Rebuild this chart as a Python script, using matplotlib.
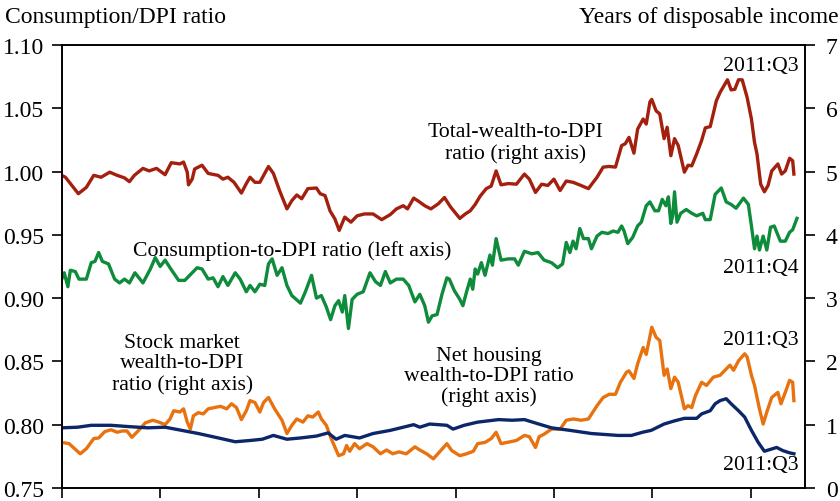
import numpy as np
import matplotlib
matplotlib.use("Agg")
import matplotlib.pyplot as plt

plt.rcParams['font.family'] = ['Liberation Serif', 'DejaVu Serif']

# consumption-to-DPI ratio (left axis)
cons_year = [1952.0, 1952.2, 1952.5, 1952.7, 1953.1, 1953.4, 1954.0, 1954.4, 1954.7, 1955.0,
             1955.3, 1955.8, 1956.3, 1956.7, 1957.1, 1957.5, 1957.95, 1958.6, 1959.2, 1959.6,
             1960.0, 1960.4, 1960.8, 1961.5, 1962.0, 1962.6, 1963.0, 1963.4, 1963.9, 1964.3,
             1964.7, 1965.1, 1965.5, 1966.1, 1966.5, 1967.0, 1967.3, 1967.7, 1968.1, 1968.5,
             1968.8, 1969.1, 1969.5, 1969.9, 1970.3, 1970.7, 1971.4, 1971.8, 1972.3, 1972.7,
             1973.1, 1973.5, 1973.85, 1974.2, 1974.5, 1974.8, 1975.0, 1975.3, 1975.6, 1976.0,
             1976.5, 1977.05, 1977.5, 1977.9, 1978.3, 1978.7, 1979.2, 1979.75, 1980.2, 1980.7,
             1981.1, 1981.5, 1981.8, 1982.1, 1982.5, 1982.9, 1983.3, 1983.5, 1983.9, 1984.35,
             1984.6, 1984.9, 1985.2, 1985.4, 1985.6, 1985.8, 1986.1, 1986.4, 1986.8, 1987.0,
             1987.3, 1987.7, 1988.3, 1988.8, 1989.1, 1989.6, 1990.2, 1990.7, 1991.2, 1991.8,
             1992.3, 1992.7, 1993.0, 1993.3, 1993.55, 1993.8, 1994.1, 1994.4, 1994.8, 1995.05,
             1995.5, 1995.9, 1996.4, 1996.8, 1997.2, 1997.5, 1997.7, 1998.0, 1998.4, 1998.8,
             1999.1, 1999.5, 1999.8, 2000.2, 2000.5, 2000.8, 2001.1, 2001.3, 2001.5, 2001.65,
             2001.8, 2002.0, 2002.3, 2002.75, 2003.2, 2003.6, 2004.1, 2004.3, 2004.7, 2005.1,
             2005.6, 2006.0, 2006.4, 2006.8, 2007.4, 2007.8, 2008.05, 2008.3, 2008.5, 2008.7,
             2009.0, 2009.3, 2009.6, 2009.9, 2010.4, 2010.8, 2011.15, 2011.4, 2011.75]
cons_val = [0.915, 0.920, 0.909, 0.922, 0.921, 0.915, 0.915, 0.928, 0.929, 0.936,
            0.929, 0.927, 0.915, 0.912, 0.915, 0.912, 0.920, 0.912, 0.923, 0.932,
            0.925, 0.930, 0.924, 0.914, 0.914, 0.920, 0.924, 0.923, 0.915, 0.916,
            0.909, 0.917, 0.910, 0.920, 0.915, 0.905, 0.910, 0.905, 0.911, 0.910,
            0.927, 0.931, 0.918, 0.924, 0.910, 0.902, 0.896, 0.905, 0.918, 0.900,
            0.902, 0.893, 0.883, 0.894, 0.898, 0.889, 0.902, 0.876, 0.899, 0.903,
            0.905, 0.920, 0.913, 0.910, 0.921, 0.912, 0.915, 0.915, 0.910, 0.897,
            0.903, 0.894, 0.881, 0.886, 0.887, 0.903, 0.916, 0.915, 0.906, 0.899,
            0.894, 0.905, 0.915, 0.907, 0.923, 0.919, 0.928, 0.918, 0.934, 0.926,
            0.947, 0.930, 0.931, 0.931, 0.926, 0.937, 0.935, 0.936, 0.930, 0.928,
            0.924, 0.927, 0.944, 0.936, 0.945, 0.939, 0.955, 0.947, 0.947, 0.939,
            0.949, 0.952, 0.951, 0.953, 0.952, 0.957, 0.953, 0.943, 0.948, 0.957,
            0.960, 0.973, 0.976, 0.969, 0.969, 0.978, 0.973, 0.980, 0.959, 0.965,
            0.984, 0.960, 0.967, 0.970, 0.967, 0.965, 0.967, 0.962, 0.962, 0.982,
            0.987, 0.976, 0.974, 0.971, 0.979, 0.974, 0.957, 0.939, 0.949, 0.938,
            0.949, 0.938, 0.956, 0.957, 0.945, 0.945, 0.952, 0.954, 0.963]

# total wealth / DPI (right axis, years of income)
tot_year = [1952.0, 1952.3, 1953.35, 1954.0, 1954.6, 1955.2, 1955.9, 1956.5, 1957.1, 1957.5,
            1957.9, 1958.6, 1959.1, 1959.7, 1960.4, 1960.9, 1961.6, 1961.9, 1962.2, 1962.3,
            1962.6, 1962.8, 1963.4, 1963.9, 1964.7, 1965.1, 1965.5, 1966.0, 1966.6, 1967.0,
            1967.3, 1967.7, 1968.1, 1968.8, 1969.2, 1969.7, 1970.3, 1970.7, 1971.1, 1971.5,
            1972.0, 1972.7, 1973.0, 1973.4, 1973.8, 1974.2, 1974.55, 1975.0, 1975.5, 1976.0,
            1976.6, 1977.3, 1978.0, 1978.7, 1979.2, 1979.75, 1980.1, 1980.6, 1981.0, 1981.5,
            1982.0, 1982.6, 1983.1, 1983.6, 1984.35, 1984.8, 1985.2, 1985.6, 1986.0, 1986.5,
            1986.9, 1987.3, 1987.7, 1988.3, 1988.95, 1989.6, 1990.0, 1990.5, 1991.0, 1991.5,
            1992.0, 1992.5, 1993.0, 1993.55, 1994.2, 1994.8, 1995.5, 1996.0, 1996.5, 1997.0,
            1997.5, 1997.8, 1998.1, 1998.5, 1998.8, 1999.25, 1999.5, 1999.8, 1999.95, 2000.3,
            2000.6, 2000.95, 2001.2, 2001.5, 2001.8, 2002.1, 2002.6, 2002.9, 2003.2, 2003.6,
            2004.0, 2004.3, 2004.7, 2005.2, 2005.5, 2006.1, 2006.4, 2006.7, 2007.0, 2007.3,
            2007.7, 2008.05, 2008.3, 2008.5, 2008.8, 2009.1, 2009.4, 2009.7, 2010.2, 2010.5,
            2010.8, 2011.15, 2011.4, 2011.5]
tot_val = [4.94, 4.91, 4.65, 4.75, 4.94, 4.91, 4.99, 4.94, 4.90, 4.84,
           4.94, 5.05, 5.01, 5.05, 4.95, 5.14, 5.12, 5.15, 4.99, 4.79,
           4.88, 5.04, 5.10, 4.97, 4.94, 4.88, 4.91, 4.83, 4.66, 4.81,
           4.91, 4.83, 4.83, 5.08, 4.97, 4.70, 4.41, 4.54, 4.63, 4.57,
           4.73, 4.74, 4.65, 4.62, 4.38, 4.25, 4.07, 4.28, 4.20, 4.30,
           4.33, 4.33, 4.24, 4.32, 4.41, 4.46, 4.41, 4.58, 4.53, 4.46,
           4.41, 4.49, 4.59, 4.44, 4.26, 4.33, 4.38, 4.48, 4.61, 4.73,
           4.77, 5.01, 4.79, 4.81, 4.80, 4.96, 4.88, 4.67, 4.80, 4.78,
           4.88, 4.70, 4.85, 4.83, 4.78, 4.73, 4.91, 5.07, 5.08, 5.07,
           5.41, 5.44, 5.54, 5.29, 5.67, 5.83, 5.75, 6.10, 6.14, 5.96,
           5.91, 5.52, 5.70, 5.25, 5.52, 5.41, 4.99, 5.10, 5.09, 5.28,
           5.49, 5.69, 5.71, 6.12, 6.25, 6.45, 6.29, 6.30, 6.45, 6.45,
           6.17, 5.83, 5.46, 5.28, 4.80, 4.68, 4.78, 5.01, 5.12, 4.96,
           5.01, 5.21, 5.17, 4.96]

# stock market wealth / DPI (right axis)
stock_year = [1952.0, 1952.6, 1953.5, 1954.0, 1954.6, 1955.0, 1955.5, 1956.0, 1956.5, 1956.9,
              1957.3, 1957.7, 1958.2, 1958.8, 1959.4, 1959.9, 1960.4, 1960.8, 1961.1, 1961.6,
              1961.9, 1962.2, 1962.45, 1962.7, 1963.1, 1963.5, 1963.9, 1964.4, 1964.9, 1965.4,
              1965.8, 1966.2, 1966.6, 1967.0, 1967.3, 1967.7, 1968.1, 1968.4, 1968.8, 1969.3,
              1969.9, 1970.3, 1970.7, 1971.1, 1971.6, 1972.0, 1972.4, 1972.85, 1973.1, 1973.5,
              1973.9, 1974.5, 1974.9, 1975.15, 1975.4, 1975.8, 1976.2, 1976.8, 1977.3, 1977.9,
              1978.4, 1978.9, 1979.4, 1980.0, 1980.7, 1981.1, 1981.65, 1982.2, 1982.7, 1983.3,
              1983.7, 1984.35, 1984.9, 1985.45, 1985.8, 1986.4, 1986.9, 1987.3, 1987.7, 1988.2,
              1988.95, 1989.6, 1990.0, 1990.5, 1990.8, 1991.2, 1991.8, 1992.5, 1993.0, 1993.6,
              1994.2, 1994.8, 1995.5, 1996.0, 1996.5, 1997.0, 1997.4, 1997.9, 1998.1, 1998.5,
              1998.8, 1999.25, 1999.5, 1999.95, 2000.3, 2000.6, 2000.95, 2001.2, 2001.5, 2001.8,
              2002.1, 2002.6, 2002.9, 2003.2, 2003.5, 2004.0, 2004.4, 2004.95, 2005.5, 2005.9,
              2006.3, 2006.6, 2007.0, 2007.5, 2007.7, 2008.05, 2008.3, 2008.7, 2009.0, 2009.3,
              2009.7, 2010.2, 2010.45, 2010.8, 2011.15, 2011.4, 2011.5]
stock_val = [0.72, 0.70, 0.54, 0.62, 0.78, 0.79, 0.89, 0.92, 0.88, 0.90,
             0.90, 0.80, 0.90, 1.03, 1.07, 1.04, 1.00, 1.09, 1.22, 1.20,
             1.25, 1.04, 0.93, 1.14, 1.19, 1.17, 1.25, 1.27, 1.29, 1.25,
             1.33, 1.27, 1.08, 1.22, 1.38, 1.35, 1.20, 1.35, 1.43, 1.25,
             1.07, 0.86, 0.99, 1.09, 1.04, 1.14, 1.12, 1.20, 1.09, 0.99,
             0.78, 0.51, 0.54, 0.67, 0.58, 0.70, 0.62, 0.70, 0.65, 0.54,
             0.60, 0.54, 0.57, 0.54, 0.65, 0.60, 0.54, 0.46, 0.57, 0.70,
             0.59, 0.51, 0.54, 0.58, 0.70, 0.72, 0.78, 0.88, 0.70, 0.72,
             0.75, 0.83, 0.81, 0.64, 0.81, 0.85, 0.93, 0.93, 1.07, 1.09,
             1.07, 1.09, 1.30, 1.43, 1.48, 1.48, 1.67, 1.83, 1.85, 1.73,
             1.96, 2.22, 2.11, 2.54, 2.38, 2.33, 1.78, 1.88, 1.57, 1.75,
             1.67, 1.25, 1.30, 1.27, 1.46, 1.67, 1.62, 1.75, 1.78, 1.86,
             1.94, 1.86, 2.01, 2.12, 2.07, 1.78, 1.62, 1.25, 1.01, 1.20,
             1.43, 1.51, 1.33, 1.51, 1.70, 1.67, 1.38]

# net housing wealth / DPI (right axis)
house_year = [1952.0, 1953.3, 1954.4, 1956.0, 1957.4, 1959.0, 1960.4, 1961.75, 1963.1, 1964.5,
              1966.1, 1967.3, 1968.3, 1969.2, 1970.3, 1971.4, 1972.7, 1973.65, 1974.3, 1975.0,
              1976.2, 1977.3, 1978.7, 1980.6, 1981.1, 1981.9, 1983.3, 1983.8, 1984.7, 1985.8,
              1987.5, 1988.6, 1989.6, 1990.6, 1991.8, 1993.3, 1995.05, 1997.2, 1998.3, 1999.2,
              1999.9, 2000.95, 2001.8, 2002.6, 2003.6, 2004.0, 2004.7, 2005.1, 2005.5, 2006.0,
              2006.4, 2007.0, 2007.5, 2008.05, 2008.6, 2009.1, 2009.6, 2010.1, 2010.6, 2011.15,
              2011.5]
house_val = [0.95, 0.96, 0.99, 0.99, 0.97, 0.95, 0.96, 0.91, 0.86, 0.80,
             0.73, 0.75, 0.77, 0.83, 0.77, 0.79, 0.82, 0.87, 0.77, 0.83,
             0.79, 0.86, 0.91, 1.00, 0.96, 1.01, 0.99, 0.93, 0.99, 1.04,
             1.08, 1.07, 1.08, 1.02, 0.95, 0.91, 0.86, 0.83, 0.83, 0.88,
             0.91, 1.01, 1.06, 1.10, 1.10, 1.17, 1.22, 1.33, 1.38, 1.41,
             1.33, 1.22, 1.12, 0.91, 0.72, 0.58, 0.61, 0.64, 0.59, 0.555,
             0.54]

fig = plt.figure(figsize=(8.4, 5.02), dpi=100)
ax = fig.add_axes([0.0735, 0.026, 0.8848, 0.8824])
ax2 = ax.twinx()

lw = 2.4
ax2.plot(tot_year, tot_val, color='#A3200F', lw=lw)
ax.plot(cons_year, cons_val, color='#0F8B3C', lw=lw)
ax2.plot(stock_year, stock_val, color='#E8720F', lw=lw)
ax2.plot(house_year, house_val, color='#0B2769', lw=lw)

ax.set_xlim(1952, 2012.4)
ax.set_ylim(0.75, 1.10)
ax2.set_ylim(0, 7)
ax.set_xticks(np.arange(1952, 2012, 8))
ax.set_xticklabels([])
ax.set_yticks(np.arange(0.75, 1.101, 0.05))
ax.set_yticklabels(['%.2f' % v for v in np.arange(0.75, 1.101, 0.05)])
ax2.set_yticks(range(8))

for a in (ax, ax2):
    a.tick_params(direction='out', length=7, width=1.2, labelsize=17, pad=4)
    for s in a.spines.values():
        s.set_linewidth(1.2)
ax.tick_params(axis='y', pad=6)
ax2.tick_params(axis='y', pad=8)

fs = 15.7
ax2.text(1988.9, 5.46, 'Total-wealth-to-DPI\nratio (right axis)', ha='center', va='center',
         fontsize=fs, linespacing=1.1)
ax.text(1970.7, 0.938, 'Consumption-to-DPI ratio (left axis)', ha='center', va='center', fontsize=fs)
ax2.text(1961.8, 1.97, 'Stock market\nwealth-to-DPI\nratio (right axis)', ha='center', va='center',
         fontsize=fs, linespacing=1.1)
ax2.text(1986.7, 1.77, 'Net housing\nwealth-to-DPI ratio\n(right axis)', ha='center', va='center',
         fontsize=fs, linespacing=1.1)
ax2.text(2011.9, 6.67, '2011:Q3', ha='right', va='center', fontsize=fs)
ax2.text(2011.9, 3.49, '2011:Q4', ha='right', va='center', fontsize=fs)
ax2.text(2011.9, 2.35, '2011:Q3', ha='right', va='center', fontsize=fs)
ax2.text(2011.9, 0.37, '2011:Q3', ha='right', va='center', fontsize=fs)

fig.text(0.006, 0.965, 'Consumption/DPI ratio', ha='left', va='center', fontsize=17)
fig.text(0.998, 0.965, 'Years of disposable income', ha='right', va='center', fontsize=17)

fig.savefig('out.png', dpi=100)
